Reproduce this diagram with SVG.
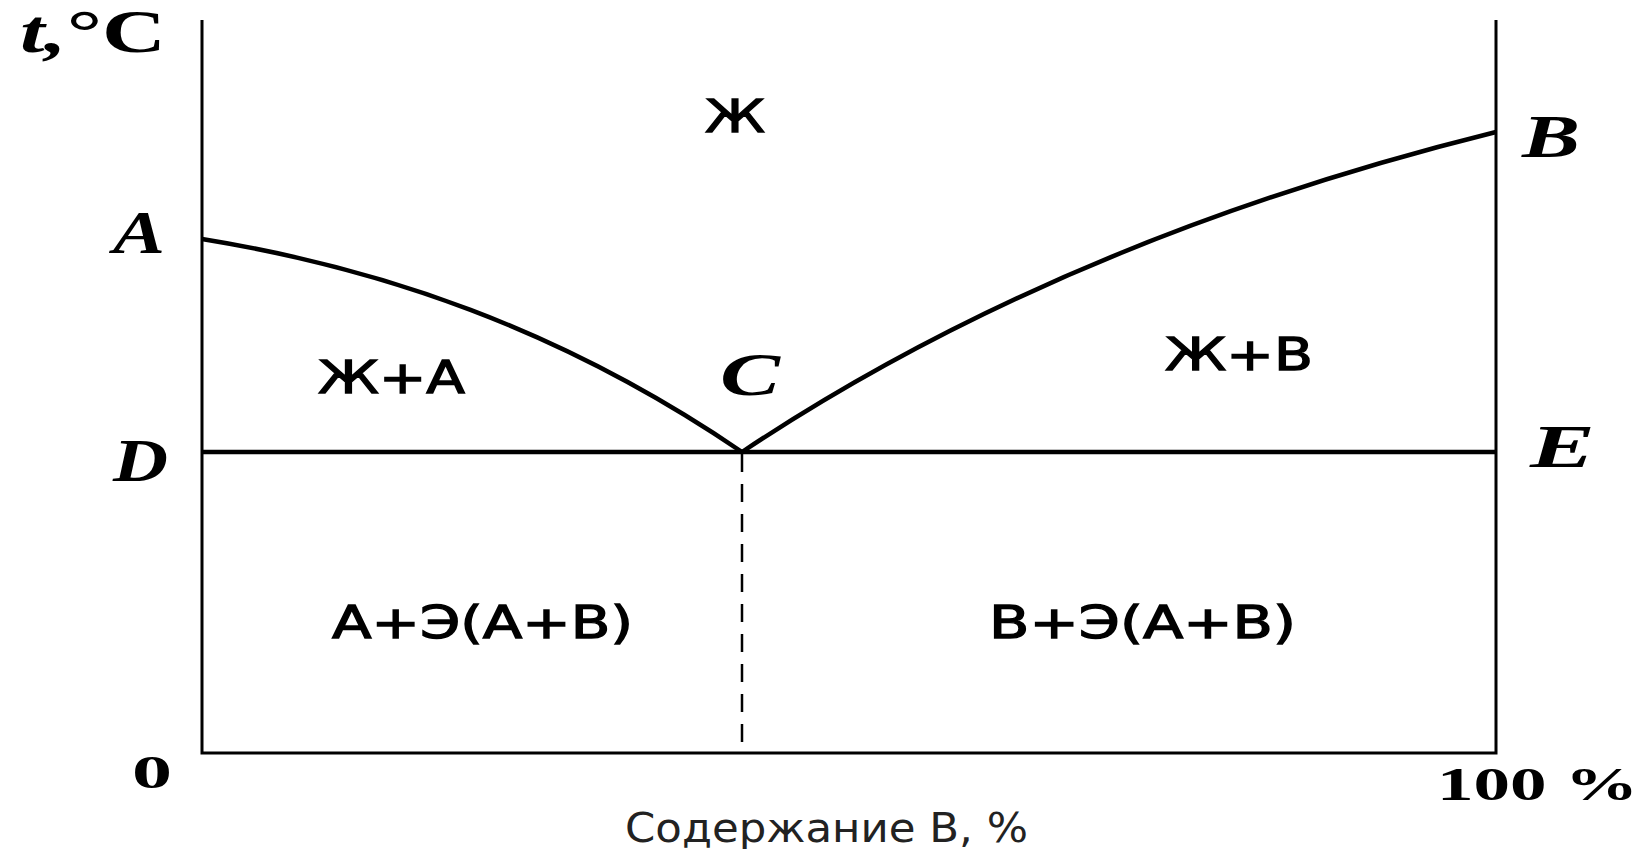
<svg xmlns="http://www.w3.org/2000/svg" width="1649" height="849" viewBox="0 0 1649 849">
<style>
.ax{stroke:#000;stroke-width:3;fill:none}
.cv{stroke:#000;stroke-width:4.5;fill:none;stroke-linejoin:round}
.pt{font-family:"Liberation Serif",serif;font-weight:bold;font-style:italic;font-size:62px;fill:#000}
.num{font-family:"Liberation Serif",serif;font-weight:bold;font-size:46px;fill:#000}
.ph{font-family:"DejaVu Sans",sans-serif;font-size:44px;fill:#000;stroke:#000;stroke-width:1.3}
.xl{font-family:"DejaVu Sans",sans-serif;font-size:40px;fill:#222}
</style>
<rect width="1649" height="849" fill="#fff"/>
<g id="axes">
<path class="ax" d="M202,20 V753 H1496 V20"/>
</g>
<g id="connectors">
<path class="cv" d="M202,452 H1496"/>
<path class="cv" d="M202,239 C380,268 560,328 742,452"/>
<path class="cv" d="M742,452 Q1060,240 1496,132"/>
<path d="M742,454 V753" stroke="#000" stroke-width="2.5" stroke-dasharray="18,12"/>
</g>
<g id="axis-labels">
<text x="20" y="52" class="pt" textLength="146" lengthAdjust="spacingAndGlyphs">t,<tspan font-style="normal">°C</tspan></text>
<text x="132" y="788" class="num" textLength="40" lengthAdjust="spacingAndGlyphs">0</text>
<text x="1437" y="800" class="num" textLength="201" lengthAdjust="spacingAndGlyphs">100 %</text>
<text x="625" y="842" class="xl" textLength="403" lengthAdjust="spacingAndGlyphs">Содержание B, %</text>
</g>
<g id="point-A"><text x="113" y="253" class="pt" textLength="52" lengthAdjust="spacingAndGlyphs">A</text></g>
<g id="point-B"><text x="1522" y="157" class="pt" textLength="58" lengthAdjust="spacingAndGlyphs">B</text></g>
<g id="point-C"><text x="720" y="395" class="pt" textLength="60" lengthAdjust="spacingAndGlyphs">C</text></g>
<g id="point-D"><text x="113" y="481" class="pt" textLength="55" lengthAdjust="spacingAndGlyphs">D</text></g>
<g id="point-E"><text x="1530" y="467" class="pt" textLength="65" lengthAdjust="spacingAndGlyphs">E</text></g>
<g id="region-L"><text x="705" y="132" class="ph" textLength="60" lengthAdjust="spacingAndGlyphs">Ж</text></g>
<g id="region-LA"><text x="318" y="393" class="ph" textLength="147" lengthAdjust="spacingAndGlyphs">Ж+А</text></g>
<g id="region-LB"><text x="1165" y="370" class="ph" textLength="148" lengthAdjust="spacingAndGlyphs">Ж+В</text></g>
<g id="region-AE"><text x="332" y="638" class="ph" textLength="301" lengthAdjust="spacingAndGlyphs">А+Э(А+В)</text></g>
<g id="region-BE"><text x="989" y="638" class="ph" textLength="307" lengthAdjust="spacingAndGlyphs">В+Э(А+В)</text></g>
</svg>
